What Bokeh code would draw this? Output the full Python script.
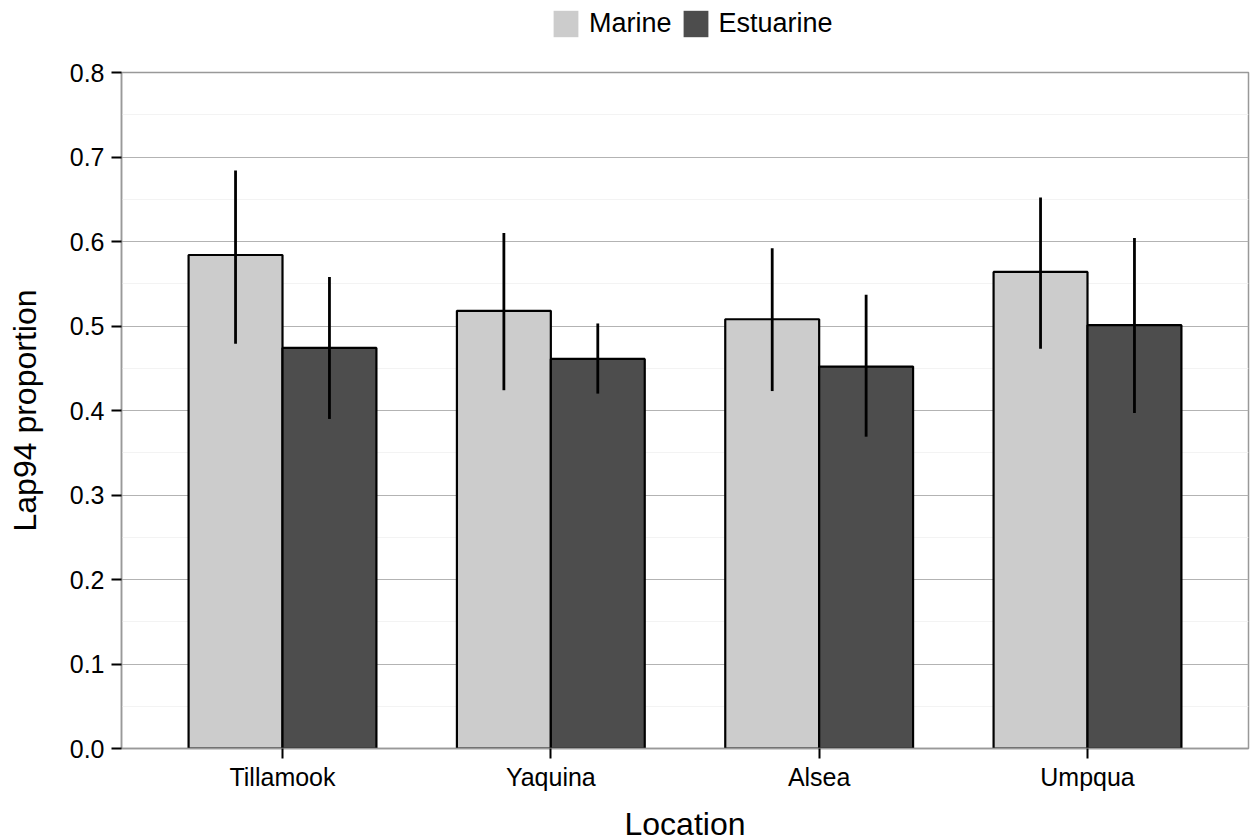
from bokeh.plotting import figure
from bokeh.layouts import column
from bokeh.models import (ColumnDataSource, FactorRange, FixedTicker, Range1d,
                          PrintfTickFormatter, Legend, LegendItem)
from bokeh.transform import dodge
from bokeh.embed import file_html
from bokeh.resources import INLINE

# ---- data ----
locations = ["Tillamook", "Yaquina", "Alsea", "Umpqua"]
marine = [0.584, 0.518, 0.508, 0.564]
marine_lo = [0.479, 0.424, 0.423, 0.473]
marine_hi = [0.684, 0.610, 0.592, 0.652]
estuarine = [0.474, 0.461, 0.452, 0.501]
estuarine_lo = [0.390, 0.420, 0.369, 0.397]
estuarine_hi = [0.558, 0.503, 0.537, 0.604]
series_names = ["Marine", "Estuarine"]
y_ticks = [0.0, 0.1, 0.2, 0.3, 0.4, 0.5, 0.6, 0.7, 0.8]
y_minor = [0.05, 0.15, 0.25, 0.35, 0.45, 0.55, 0.65, 0.75]

FONT = "Liberation Sans"
MARINE_C = "#cccccc"
EST_C = "#4d4d4d"

src = ColumnDataSource(dict(loc=locations, marine=marine, marine_lo=marine_lo,
                            marine_hi=marine_hi, estuarine=estuarine,
                            estuarine_lo=estuarine_lo, estuarine_hi=estuarine_hi))

TOTAL_W = 1251
LEG_H = 50
TOP_B = 22
FW, FH = 1127, 676
x_range = FactorRange(factors=locations, range_padding=0.1,
                      range_padding_units="absolute")

p = figure(x_range=x_range, y_range=(0, 0.8),
           frame_width=FW, frame_height=FH,
           min_border_left=121, min_border_right=TOTAL_W - 121 - FW,
           min_border_top=TOP_B, min_border_bottom=92,
           output_backend="svg", toolbar_location=None)

bw = 0.35
xm = dodge("loc", -bw / 2, range=x_range)
xe = dodge("loc", bw / 2, range=x_range)

p.vbar(x=xm, top="marine", width=bw, source=src, fill_color=MARINE_C,
       line_color="black", line_width=2.2)
p.vbar(x=xe, top="estuarine", width=bw, source=src, fill_color=EST_C,
       line_color="black", line_width=2.2)
p.segment(x0=xm, y0="marine_lo", x1=xm, y1="marine_hi", source=src,
          line_color="black", line_width=2.8)
p.segment(x0=xe, y0="estuarine_lo", x1=xe, y1="estuarine_hi", source=src,
          line_color="black", line_width=2.8)

# grid / frame
p.xgrid.grid_line_color = None
p.ygrid.grid_line_color = "#b3b3b3"
p.ygrid.grid_line_width = 1.2
p.ygrid.minor_grid_line_color = "#f3f3f3"
p.ygrid.minor_grid_line_width = 1.2
p.outline_line_color = "#999999"
p.outline_line_width = 1.5
p.background_fill_color = "white"
p.border_fill_color = "white"

p.yaxis.ticker = FixedTicker(ticks=y_ticks, minor_ticks=y_minor)
p.yaxis.formatter = PrintfTickFormatter(format="%.1f")

for ax in (p.xaxis[0], p.yaxis[0]):
    ax.axis_line_color = "#999999"
    ax.axis_line_width = 1.5
    ax.major_tick_line_color = "black"
    ax.major_tick_line_width = 2
    ax.major_tick_out = 10
    ax.major_tick_in = 0
    ax.minor_tick_line_color = None
    ax.major_label_text_font = FONT
    ax.major_label_text_font_size = "25px"
    ax.major_label_text_color = "black"
    ax.axis_label_text_font = FONT
    ax.axis_label_text_font_size = "32px"
    ax.axis_label_text_font_style = "normal"
    ax.axis_label_text_color = "black"

p.xaxis.axis_label = "Location"
p.yaxis.axis_label = "Lap94 proportion"
p.xaxis.major_label_standoff = 4
p.yaxis.major_label_standoff = 7
p.xaxis.axis_label_standoff = 12
p.yaxis.axis_label_standoff = 24

# ---- legend strip above the panel ----
lf = figure(x_range=x_range, y_range=Range1d(0, 1), width=TOTAL_W, height=LEG_H,
            min_border=0, output_backend="svg", toolbar_location=None)
lf.axis.visible = False
lf.grid.visible = False
lf.outline_line_color = None
lf.background_fill_color = "white"
lf.border_fill_color = "white"
# legend key proxies (zero height: only the legend keys are seen)
k1 = lf.vbar(x=xm, top=0, bottom=0, width=bw, source=src,
             fill_color=MARINE_C, line_color=None)
k2 = lf.vbar(x=xe, top=0, bottom=0, width=bw, source=src,
             fill_color=EST_C, line_color=None)
legend = Legend(items=[LegendItem(label=series_names[0], renderers=[k1]),
                       LegendItem(label=series_names[1], renderers=[k2])],
                orientation="horizontal", location=(429, LEG_H - 40),
                glyph_width=31, glyph_height=33, label_height=33,
                label_standoff=8, spacing=8, padding=0, margin=0,
                label_text_font=FONT, label_text_font_size="27px",
                label_text_color="black",
                border_line_color=None, background_fill_alpha=0)
lf.add_layout(legend, "center")

layout = column(lf, p, spacing=0)
open("out.html", "w").write(file_html(layout, INLINE))
